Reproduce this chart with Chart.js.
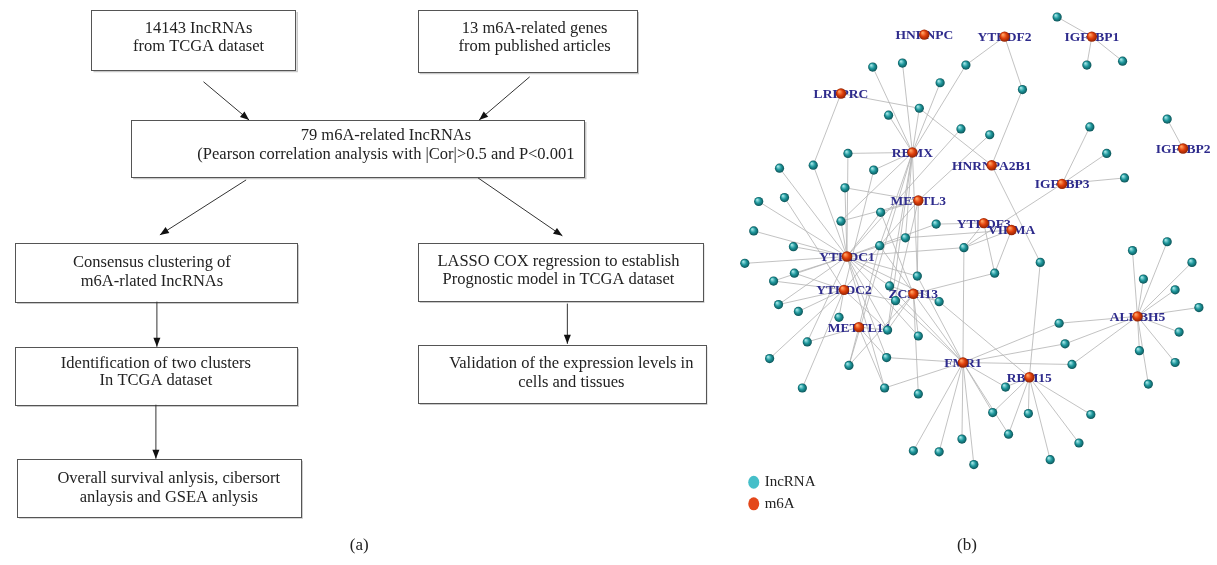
<!DOCTYPE html>
<html>
<head>
<meta charset="utf-8">
<script src="https://cdn.jsdelivr.net/npm/chart.js@4.4.1/dist/chart.umd.min.js"></script>
<style>
  html, body { margin: 0; padding: 0; background: #fff; }
  #wrap { width: 1217px; height: 565px; }
</style>
</head>
<body>
<div id="wrap"><canvas id="fig" width="1217" height="565"></canvas></div>
<script>
// ---- panel (b): m6A regulators (hubs), layout coordinates ----
const m6aNames = ['HNRNPC', 'YTHDF2', 'IGF2BP1', 'LRPPRC', 'IGF2BP2', 'RBMX', 'HNRNPA2B1', 'IGF2BP3', 'METTL3',
                  'YTHDF3', 'VIRMA', 'YTHDC1', 'YTHDC2', 'ZC3H13', 'METTL14', 'ALKBH5', 'FMR1', 'RBM15'];
const m6aX = [927, 1008, 1096, 843, 1188, 915, 995, 1066, 921, 987, 1015, 849, 846, 916, 861, 1142, 966, 1033];
const m6aY = [30, 32, 32, 90, 146, 150, 163, 182, 199, 222, 229, 256, 290, 294, 328, 317, 364, 379];

// ---- lncRNA nodes and the regulators each one is correlated with ----
const lncX = [1061, 1091, 1127, 875, 905, 969, 943, 1026, 922, 891, 964, 993, 1094, 1111, 1129, 1172,
              815, 781, 850, 876, 847, 760, 786, 883, 843, 755, 939, 908, 882, 967, 795, 746,
              1044, 998, 920, 796, 775, 892, 898, 942, 780, 800, 841, 890, 809, 921, 771, 851,
              889, 804, 887, 921, 1063, 1069, 1076, 1137, 1172, 1148, 1197, 1180, 1204, 1184, 1144,
              1180, 1153, 1009, 996, 1032, 1095, 1012, 1083, 1054, 965, 916, 942, 977];
const lncY = [12, 61, 57, 63, 59, 61, 79, 86, 105, 112, 126, 132, 124, 151, 176, 116,
              163, 166, 151, 168, 186, 200, 196, 211, 220, 230, 223, 237, 245, 247, 246, 263,
              262, 273, 276, 273, 281, 286, 301, 302, 305, 312, 318, 331, 343, 337, 360, 367,
              359, 390, 390, 396, 324, 345, 366, 250, 241, 279, 262, 290, 308, 333, 352,
              364, 386, 389, 415, 416, 417, 437, 446, 463, 442, 454, 455, 468];
const lncLinks = [
  ['IGF2BP1'], ['IGF2BP1'], ['IGF2BP1'], ['RBMX'], ['RBMX'], ['YTHDF2', 'RBMX'], ['RBMX'],
  ['YTHDF2', 'HNRNPA2B1'], ['LRPPRC', 'RBMX', 'HNRNPA2B1'], ['RBMX'], ['YTHDC1'], ['METTL3'],
  ['IGF2BP3'], ['IGF2BP3'], ['IGF2BP3'], ['IGF2BP2'],
  ['LRPPRC', 'YTHDC1'], ['YTHDC1'], ['RBMX', 'YTHDC1'], ['RBMX', 'YTHDC2'], ['METTL3', 'YTHDC1'],
  ['YTHDC1'], ['YTHDC2'], ['METTL3', 'YTHDC1', 'ZC3H13'], ['METTL3', 'YTHDC1', 'RBMX'], ['YTHDC1'],
  ['YTHDF3', 'YTHDC1'], ['YTHDC1', 'VIRMA', 'RBMX'], ['METTL3', 'YTHDC2', 'FMR1', 'RBMX', 'METTL14'],
  ['YTHDF3', 'VIRMA', 'IGF2BP3', 'FMR1', 'YTHDC1'], ['YTHDC1'], ['YTHDC1'],
  ['HNRNPA2B1', 'RBM15'], ['YTHDF3', 'VIRMA', 'ZC3H13'], ['METTL3', 'YTHDC1', 'FMR1', 'RBMX'],
  ['YTHDC1', 'YTHDC2'], ['YTHDC1', 'YTHDC2'], ['YTHDC1', 'ZC3H13', 'RBMX', 'FMR1'],
  ['YTHDC2', 'ZC3H13', 'FMR1'], ['ZC3H13', 'RBM15', 'YTHDC1'], ['YTHDC1', 'YTHDC2'], ['YTHDC2'],
  ['YTHDC2'], ['ZC3H13', 'YTHDC2', 'METTL3', 'RBMX', 'YTHDC1', 'METTL14'], ['METTL14', 'YTHDC1'],
  ['ZC3H13', 'YTHDC1'], ['YTHDC2'], ['METTL14', 'ZC3H13', 'RBMX'], ['FMR1', 'METTL14', 'YTHDC1'],
  ['YTHDC2'], ['FMR1', 'METTL14', 'YTHDC1'],
  ['ZC3H13'], ['ALKBH5', 'FMR1'], ['ALKBH5', 'FMR1'], ['FMR1', 'ALKBH5'],
  ['ALKBH5'], ['ALKBH5'], ['ALKBH5'], ['ALKBH5'], ['ALKBH5'], ['ALKBH5'], ['ALKBH5'], ['ALKBH5'],
  ['ALKBH5'], ['ALKBH5'], ['RBM15', 'FMR1'], ['RBM15', 'FMR1'], ['RBM15'], ['RBM15'],
  ['RBM15', 'FMR1'], ['RBM15'], ['RBM15'], ['FMR1'], ['FMR1'], ['FMR1'], ['FMR1']
];

// ---- panel (a): flowchart text ----
const flowText = [
  ['14143 IncRNAs', 'from TCGA dataset'],
  ['13 m6A-related genes', 'from published articles'],
  ['79 m6A-related IncRNAs', '(Pearson correlation analysis with |Cor|>0.5 and P<0.001'],
  ['Consensus clustering of', 'm6A-rlated IncRNAs'],
  ['LASSO COX regression to establish', 'Prognostic model in TCGA dataset'],
  ['Identification of two clusters', 'In TCGA dataset'],
  ['Validation of the expression levels in', 'cells and tissues'],
  ['Overall survival anlysis, cibersort', 'anlaysis and GSEA anlysis']
];
// box layout: left, top, right, bottom, text centre x, line 1 y, line 2 y
const flowBoxes = [
  [87, 5, 293, 66, 195, 26, 44],
  [416, 5, 637, 68, 534, 26, 44],
  [127, 117, 584, 175, 384, 135, 154],
  [10, 242, 294, 302, 148, 264, 284],
  [416, 242, 703, 301, 558, 263, 282],
  [10, 348, 294, 407, 152, 367, 385],
  [416, 346, 706, 405, 571, 367, 387],
  [12, 462, 298, 521, 165, 484, 504]
];
const flowArrows = [
  [200, 78, 246, 117], [529, 73, 478, 117], [243, 178, 156, 234], [477, 176, 562, 235],
  [153, 302, 153, 348], [567, 304, 567, 345], [152, 407, 152, 462]
];

const legendItems = ['IncRNA', 'm6A'];
const panelCaptions = ['(a)', '(b)'];

// ---- build datasets ----
const lncPoints = lncX.map((x, i) => ({ x: x, y: lncY[i] }));
const m6aPoints = m6aX.map((x, i) => ({ x: x, y: m6aY[i] }));
const edgePoints = [];
lncLinks.forEach((hubs, i) => {
  hubs.forEach(h => {
    const j = m6aNames.indexOf(h);
    edgePoints.push({ x: lncX[i], y: lncY[i] }, { x: m6aX[j], y: m6aY[j] }, { x: null, y: null });
  });
});

// shaded ball look for the nodes
function ball(light, mid, dark, r) {
  return c => {
    if (!c.raw || c.raw.x == null) return mid;
    const ch = c.chart;
    const px = ch.scales.x.getPixelForValue(c.raw.x);
    const py = ch.scales.y.getPixelForValue(c.raw.y);
    if (!isFinite(px) || !isFinite(py)) return mid;
    const g = ch.ctx.createRadialGradient(px - r * 0.35, py - r * 0.4, r * 0.1, px, py, r);
    g.addColorStop(0, light);
    g.addColorStop(0.5, mid);
    g.addColorStop(1, dark);
    return g;
  };
}

const SERIF = '"Liberation Serif", "DejaVu Serif", serif';

const flowPlugin = {
  id: 'flow',
  beforeDatasetsDraw(chart) {
    const ctx = chart.ctx, sx = chart.scales.x, sy = chart.scales.y;
    const X = v => sx.getPixelForValue(v), Y = v => sy.getPixelForValue(v);
    ctx.save();
    // boxes
    flowBoxes.forEach((b, i) => {
      const l = X(b[0]), t = Y(b[1]), r = X(b[2]), btm = Y(b[3]);
      ctx.strokeStyle = '#c8c8c8';
      ctx.lineWidth = 1.5;
      ctx.beginPath();
      ctx.moveTo(l + 2, btm + 1.5); ctx.lineTo(r + 1.5, btm + 1.5); ctx.lineTo(r + 1.5, t + 2);
      ctx.stroke();
      ctx.strokeStyle = '#555';
      ctx.lineWidth = 1;
      ctx.strokeRect(Math.round(l) + 0.5, Math.round(t) + 0.5, Math.round(r - l), Math.round(btm - t));
      ctx.fillStyle = '#222';
      ctx.font = '16.5px ' + SERIF;
      ctx.textAlign = 'center';
      ctx.textBaseline = 'middle';
      ctx.fillText(flowText[i][0], X(b[4]), Y(b[5]) - 2);
      ctx.fillText(flowText[i][1], X(b[4]), Y(b[6]) - 2);
    });
    // arrows
    ctx.strokeStyle = '#333';
    ctx.fillStyle = '#111';
    ctx.lineWidth = 1;
    flowArrows.forEach(a => {
      const x0 = X(a[0]), y0 = Y(a[1]), x1 = X(a[2]), y1 = Y(a[3]);
      const ang = Math.atan2(y1 - y0, x1 - x0);
      ctx.beginPath(); ctx.moveTo(x0, y0); ctx.lineTo(x1, y1); ctx.stroke();
      ctx.beginPath();
      ctx.moveTo(x1, y1);
      ctx.lineTo(x1 - 9 * Math.cos(ang) + 3.5 * Math.sin(ang), y1 - 9 * Math.sin(ang) - 3.5 * Math.cos(ang));
      ctx.lineTo(x1 - 9 * Math.cos(ang) - 3.5 * Math.sin(ang), y1 - 9 * Math.sin(ang) + 3.5 * Math.cos(ang));
      ctx.closePath(); ctx.fill();
    });
    // legend of panel (b)
    const legendCols = ['#45bfc9', '#e4471a'];
    legendItems.forEach((t, i) => {
      const ly = Y(486 + i * 22);
      ctx.fillStyle = legendCols[i];
      ctx.beginPath(); ctx.ellipse(X(755), ly, 5.5, 6.5, 0, 0, Math.PI * 2); ctx.fill();
      ctx.fillStyle = '#222';
      ctx.font = '15px ' + SERIF;
      ctx.textAlign = 'left';
      ctx.fillText(t, X(766), ly);
    });
    // panel captions
    ctx.font = '17px ' + SERIF;
    ctx.textAlign = 'center';
    ctx.fillStyle = '#222';
    ctx.fillText(panelCaptions[0], X(357), Y(550));
    ctx.fillText(panelCaptions[1], X(970), Y(550));
    ctx.restore();
  }
};

// gene labels sit above the edges but under the balls
const labelPlugin = {
  id: 'geneLabels',
  afterDatasetDraw(chart, args) {
    if (args.index !== 0) return;
    const ctx = chart.ctx, sx = chart.scales.x, sy = chart.scales.y;
    ctx.save();
    ctx.font = 'bold 13.5px ' + SERIF;
    ctx.fillStyle = '#2e2b8c';
    ctx.textAlign = 'center';
    ctx.textBaseline = 'middle';
    m6aNames.forEach((n, i) => {
      ctx.fillText(n, sx.getPixelForValue(m6aX[i]), sy.getPixelForValue(m6aY[i]) + 1);
    });
    ctx.restore();
  }
};

new Chart(document.getElementById('fig').getContext('2d'), {
  type: 'scatter',
  data: {
    datasets: [
      {
        label: 'edges',
        data: edgePoints,
        showLine: true,
        spanGaps: false,
        borderColor: '#b3b3b3',
        borderWidth: 0.8,
        pointRadius: 0,
        clip: false,
        order: 3
      },
      {
        label: 'IncRNA',
        data: lncPoints,
        pointRadius: 4.6,
        pointBackgroundColor: ball('#9fe3e4', '#1f989d', '#0b5357', 4.6),
        pointBorderWidth: 0,
        clip: false,
        order: 2
      },
      {
        label: 'm6A',
        data: m6aPoints,
        pointRadius: 5.2,
        pointBackgroundColor: ball('#ffa060', '#e2410c', '#8f2202', 5.2),
        pointBorderWidth: 0,
        clip: false,
        order: 1
      }
    ]
  },
  options: {
    responsive: false,
    animation: false,
    events: [],
    layout: { padding: 0 },
    scales: {
      x: { type: 'linear', min: 0, max: 1217, display: false },
      y: { type: 'linear', min: 0, max: 565, reverse: true, display: false }
    },
    plugins: {
      legend: { display: false },
      tooltip: { enabled: false }
    }
  },
  plugins: [flowPlugin, labelPlugin]
});
</script>
</body>
</html>
